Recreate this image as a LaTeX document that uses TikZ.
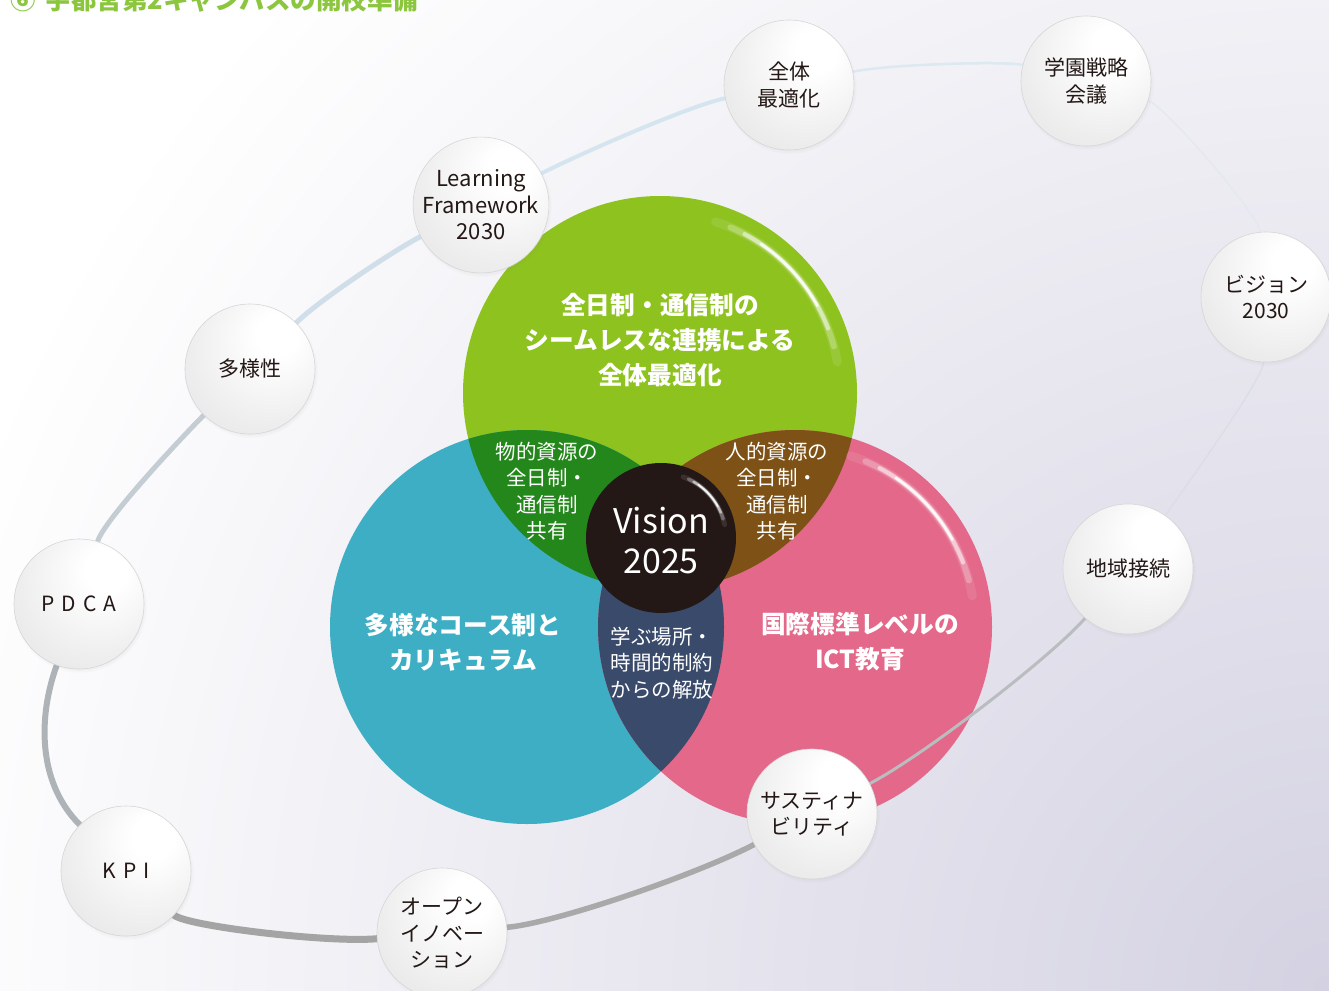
\documentclass[tikz,border=0pt]{standalone}
\usepackage{fontspec}
\setmainfont{Noto Sans CJK JP}
\usetikzlibrary{calc,shadows}
\definecolor{cgreen}{HTML}{8DC21F}
\definecolor{cteal}{HTML}{3DAEC3}
\definecolor{cpink}{HTML}{E3688A}
\definecolor{cdgreen}{HTML}{24871B}
\definecolor{cbrown}{HTML}{7E5116}
\definecolor{cnavy}{HTML}{394A6B}
\definecolor{ccore}{HTML}{231815}
\definecolor{ctext}{HTML}{231815}
\definecolor{ctitle}{HTML}{8CC63F}
\definecolor{cbg}{HTML}{D4D2E2}
\definecolor{rOK}{HTML}{A4A4A4}
\definecolor{rKP}{HTML}{AEB3B7}
\definecolor{rPD}{HTML}{C4CDD3}
\definecolor{rDL}{HTML}{CFDEE8}
\definecolor{rLZ}{HTML}{D5E5EF}
\definecolor{rZG}{HTML}{DCE9F1}
\definecolor{rGV}{HTML}{E2E9EF}
\definecolor{rVC}{HTML}{DADFE4}
\definecolor{rCS}{HTML}{BABDBF}
\definecolor{rSO}{HTML}{A9A9A9}
\pgfdeclarelayer{back}
\pgfdeclarelayer{ring}
\pgfsetlayers{back,ring,main}
\pgfdeclareradialshading{bubbleshade}{\pgfpoint{12bp}{15bp}}{color(0bp)=(white); color(8bp)=(white); color(30bp)=(black!7); color(48bp)=(black!12); color(65bp)=(black!13)}
\tikzset{
  bubble/.style={circle, minimum size=130, inner sep=0, draw=black!16, line width=0.6,
    shade, shading=bubbleshade, text=ctext, align=center,
    font=\fontsize{21}{26.5}\selectfont,
    circular drop shadow={shadow xshift=1pt, shadow yshift=-2pt, shadow scale=1.03, opacity=0.18}},
  venntxt/.style={text=white, align=center, inner sep=0},
  bigtxt/.style={venntxt, font=\bfseries\fontsize{24.7}{35}\selectfont},
  smalltxt/.style={venntxt, font=\fontsize{20.5}{26.5}\selectfont},
  gloss/.style={white, line cap=round},
  ringline/.style={line cap=round},
}
\begin{document}
\begin{tikzpicture}[x=1pt,y=-1pt]
\useasboundingbox (0,0) rectangle (1329,990);
\coordinate (cg) at (660,393);
\coordinate (ct) at (527,627);
\coordinate (cp) at (795,627);
\coordinate (cv) at (661,538);
\begin{pgfonlayer}{back}
  % background
  \begin{scope}
    \clip (0,0) rectangle (1329,990);
    \fill[white] (0,0) rectangle (1329,990);
    \shade[inner color=cbg, outer color=white] (1329,990) circle (1450);
  \end{scope}
  % venn circles
  \fill[cgreen] (cg) circle (197);
  \fill[cteal] (ct) circle (197);
  \fill[cpink] (cp) circle (197);
  \begin{scope}\clip (cg) circle (197); \fill[cdgreen] (ct) circle (197);\end{scope}
  \begin{scope}\clip (cg) circle (197); \fill[cbrown] (cp) circle (197);\end{scope}
  \begin{scope}\clip (ct) circle (197); \fill[cnavy] (cp) circle (197);\end{scope}
  \fill[ccore] (cv) circle (75);
  % gloss highlights
  \foreach \a/\b/\w/\o in {-72/-10/9/0.10, -67/-15/6/0.25, -62/-21/4/0.5, -56/-29/2.6/0.85}{
    \draw[gloss, line width=\w, opacity=\o] (cg) ++(\a:180) arc[start angle=\a, end angle=\b, radius=180];
    \draw[gloss, line width=\w, opacity=\o] (cp) ++(\a:180) arc[start angle=\a, end angle=\b, radius=180];
  }
  \foreach \a/\b/\w/\o in {-70/-12/5/0.10, -65/-17/3.5/0.3, -60/-23/2.4/0.55, -55/-29/1.6/0.85}{
    \draw[gloss, line width=\w, opacity=\o] (cv) ++(\a:65) arc[start angle=\a, end angle=\b, radius=65];
  }
\end{pgfonlayer}

% title
\node[anchor=base west, inner sep=0, text=ctitle, font=\bfseries\fontsize{25.5}{30}\selectfont] (title) at (10,10) {⑥\hspace{0.4em}宇都宮第2キャンパスの開校準備};

% venn texts
\node[bigtxt] (tG) at (660,340) {全日制・通信制の\\シームレスな連携による\\全体最適化};
\node[bigtxt] (tT) at (463,642) {多様なコース制と\\カリキュラム};
\node[bigtxt] (tP) at (860,642) {国際標準レベルの\\ICT教育};
\node[smalltxt] (tGT) at (547,491) {物的資源の\\全日制・\\通信制\\共有};
\node[smalltxt] (tGP) at (777,491) {人的資源の\\全日制・\\通信制\\共有};
\node[smalltxt] (tTP) at (662,663) {学ぶ場所・\\時間的制約\\からの解放};
\node[venntxt, font=\fontsize{34}{40}\selectfont] (tV) at (661,541) {Vision\\2025};

% bubbles
\node[bubble] (Z) at (789,85) {全体\\最適化};
\node[bubble] (G) at (1086,81) {学園戦略\\会議};
\node[bubble, font=\fontsize{22}{26.5}\selectfont] (L) at (481,205) {Learning\\Framework\\2030};
\node[bubble] (D) at (250,369) {多様性};
\node[bubble] (V) at (1266,297) {ビジョン\\2030};
\node[bubble] (P) at (79,604) {P\hspace{7pt}D\hspace{7pt}C\hspace{7pt}A};
\node[bubble] (C) at (1128,569) {地域接続};
\node[bubble] (K) at (126,871) {K\hspace{7pt}P\hspace{7pt}I};
\node[bubble] (S) at (812,814) {サスティナ\\ビリティ};
\node[bubble] (O) at (442,933) {オープン\\イノベー\\ション};

% ring
\begin{pgfonlayer}{ring}
  \draw[ringline, line width=7, draw=rOK] (O) .. controls +(-114,10) and +(60,55) .. (K);
  \draw[ringline, line width=6, draw=rKP] (K) .. controls +(-90,-90) and +(-40,110) .. (P);
  \draw[ringline, line width=5, draw=rPD] (P) .. controls +(25,-84) and +(-67,67) .. (D);
  \draw[ringline, line width=5, draw=rDL] (D) .. controls +(67,-67) and +(-90,47) .. (L);
  \draw[ringline, line width=4, draw=rLZ] (L) .. controls +(90,-47) and +(-101,21) .. (Z);
  \draw[ringline, line width=2.5, draw=rZG] (Z) .. controls +(101,-21) and +(-79,-20) .. (G);
  \draw[ringline, line width=1.3, draw=rGV] (G) .. controls +(79,25) and +(-7,-82) .. (V);
  \draw[ringline, line width=1.4, draw=rVC] (V) .. controls +(-3,82) and +(60,-86) .. (C);
  \draw[ringline, line width=3, draw=rCS] (C) .. controls +(-75,86) and +(114,-60) .. (S);
  \draw[ringline, line width=5.5, draw=rSO] (S) .. controls +(-114,60) and +(114,-10) .. (O);
\end{pgfonlayer}
\end{tikzpicture}
\end{document}
